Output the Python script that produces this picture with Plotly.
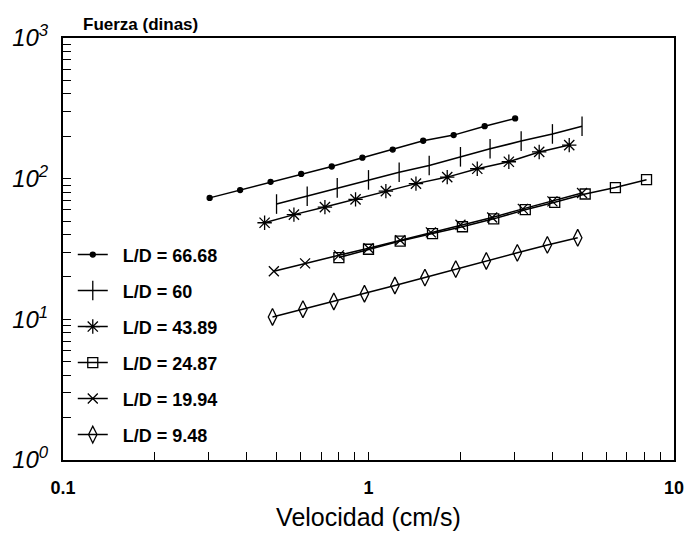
import plotly.graph_objects as go

# ---- data ----
x_6668 = [0.302, 0.380, 0.478, 0.602, 0.758, 0.955, 1.20, 1.51, 1.90, 2.40, 3.02]
y_6668 = [73, 83, 95, 108, 122, 141, 161, 186, 204, 236, 268]

x_60 = [0.50, 0.63, 0.79, 1.00, 1.26, 1.58, 2.00, 2.50, 3.16, 4.00, 5.00]
y_60 = [66, 75, 86, 98, 111, 124, 143, 163, 185, 208, 236]

x_4389 = [0.457, 0.57, 0.72, 0.907, 1.14, 1.43, 1.81, 2.27, 2.88, 3.62, 4.54]
y_4389 = [48.6, 55.5, 62.8, 71.3, 81.6, 92.2, 102.6, 117.6, 131.9, 154.9, 173.3]

x_2487 = [0.80, 1.00, 1.27, 1.62, 2.03, 2.57, 3.26, 4.07, 5.12, 6.43, 8.13]
y_2487 = [27.5, 31.5, 36, 40.7, 45.5, 51.8, 60.2, 67.9, 77.8, 86.5, 98.3]

x_1994 = [0.49, 0.62, 0.80, 1.00, 1.27, 1.60, 2.00, 2.54, 3.20, 4.00, 5.00]
y_1994 = [22, 25, 28.5, 32, 36.5, 41.5, 47, 53, 61, 69, 79]

x_948 = [0.485, 0.61, 0.77, 0.97, 1.22, 1.53, 1.93, 2.43, 3.07, 3.85, 4.84]
y_948 = [10.4, 11.8, 13.4, 15.2, 17.4, 19.8, 22.75, 26.0, 29.7, 33.8, 38.0]

labels = ["L/D = 66.68", "L/D = 60", "L/D = 43.89", "L/D = 24.87", "L/D = 19.94", "L/D = 9.48"]
xs = [x_6668, x_60, x_4389, x_2487, x_1994, x_948]
ys = [y_6668, y_60, y_4389, y_2487, y_1994, y_948]
symbols = ["circle", "line-ns-open", "asterisk-open", "square-open", "x-thin-open", "diamond-tall-open"]
sizes = [5, 14, 12, 10, 10, 12]

y_tickvals = [1, 10, 100, 1000]
y_ticktext = ["10<sup>0</sup>", "10<sup>1</sup>", "10<sup>2</sup>", "10<sup>3</sup>"]
x_tickvals = [0.1, 1, 10]
x_ticktext = ["0.1", "1", "10"]

fig = go.Figure()
for i, (x, y, lab, sym, sz) in enumerate(zip(xs, ys, labels, symbols, sizes)):
    fig.add_trace(go.Scatter(
        x=x, y=y, mode="lines+markers", name="\u00a0\u00a0" + lab.replace(" = ", "\u00a0=\u00a0"),
        legendgroup=f"g{i}",
        line=dict(color="black", width=1.5),
        marker=dict(symbol=sym, size=sz, color="black",
                    line=dict(color="black", width=1.3)),
    ))

fig.update_layout(
    width=696, height=539,
    margin=dict(l=62, r=13, t=38, b=70),
    paper_bgcolor="white", plot_bgcolor="white",
    font=dict(family="Liberation Sans, Arial, sans-serif", color="black"),
    showlegend=True,
    legend=dict(x=0.016, y=0.53, xanchor="left", yanchor="top",
                bgcolor="rgba(0,0,0,0)", tracegroupgap=9.6,
                font=dict(size=18, family="Liberation Sans, Arial, sans-serif", weight="bold")),
    xaxis=dict(type="log", range=[-1, 1], tickvals=x_tickvals, ticktext=x_ticktext,
               showgrid=False, zeroline=False, showline=True, linecolor="black",
               linewidth=2, mirror=True, ticks="inside", ticklen=8, tickcolor="black",
               ticklabelstandoff=10,
               tickfont=dict(size=18, weight="bold"),
               minor=dict(ticks="inside", ticklen=8, tickcolor="black", dtick="D1", showgrid=False),
               title=dict(text="Velocidad (cm/s)", font=dict(size=25), standoff=12)),
    yaxis=dict(type="log", range=[0, 3], tickvals=y_tickvals, ticktext=y_ticktext,
               showgrid=False, zeroline=False, showline=True, linecolor="black",
               linewidth=2, mirror=True, ticks="inside", ticklen=8, tickcolor="black",
               ticklabelstandoff=8,
               tickfont=dict(size=24, style="italic"),
               minor=dict(ticks="inside", ticklen=8, tickcolor="black", dtick="D1", showgrid=False)),
    annotations=[dict(text="<b>Fuerza (dinas)</b>", x=0.03, y=1.005, xref="paper", yref="paper",
                      xanchor="left", yanchor="bottom", showarrow=False, font=dict(size=17))],
)

fig.write_html("out.html")
